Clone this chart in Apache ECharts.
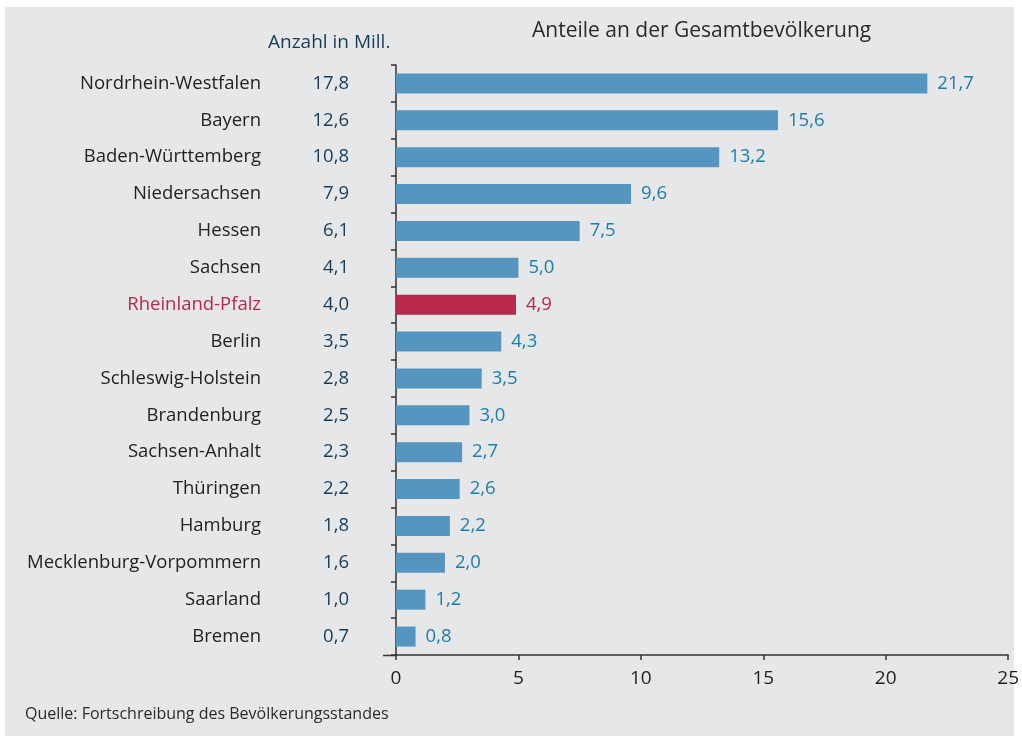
<!DOCTYPE html>
<html>
<head>
<meta charset="utf-8">
<script src="https://cdn.jsdelivr.net/npm/echarts@6/dist/echarts.min.js"></script>
<style>
  html, body { margin: 0; padding: 0; background: #fff; }
  #chart { width: 1022px; height: 736px; }
</style>
</head>
<body>
<div id="chart"></div>
<script>
// Bundesländer, sortiert nach Einwohnerzahl
var laender = ['Nordrhein-Westfalen', 'Bayern', 'Baden-Württemberg', 'Niedersachsen', 'Hessen',
    'Sachsen', 'Rheinland-Pfalz', 'Berlin', 'Schleswig-Holstein', 'Brandenburg',
    'Sachsen-Anhalt', 'Thüringen', 'Hamburg', 'Mecklenburg-Vorpommern', 'Saarland', 'Bremen'];
// Anzahl in Mill.
var anzahl = [17.8, 12.6, 10.8, 7.9, 6.1, 4.1, 4.0, 3.5, 2.8, 2.5, 2.3, 2.2, 1.8, 1.6, 1.0, 0.7];
// Anteile an der Gesamtbevölkerung in %
var anteile = [21.7, 15.6, 13.2, 9.6, 7.5, 5.0, 4.9, 4.3, 3.5, 3.0, 2.7, 2.6, 2.2, 2.0, 1.2, 0.8];
var markiert = 'Rheinland-Pfalz';

var blau = '#5595bf';
var blauText = '#1a7db0';
var rot = '#b8284a';
var font = '"Open Sans", sans-serif';

function komma(v) {
    return v.toFixed(1).replace('.', ',');
}

var myChart = echarts.init(document.getElementById('chart'));

var option = {
    backgroundColor: '#fff',
    textStyle: { fontFamily: font },
    graphic: [
        { type: 'rect', z: -10, shape: { x: 5, y: 7, width: 1009, height: 729 }, style: { fill: '#e6e7e9' } },
        { type: 'text', left: 268, top: 33, style: { text: 'Anzahl in Mill.', fill: '#163c5a', font: '19px ' + font } },
        { type: 'text', left: 532, top: 21, style: { text: 'Anteile an der Gesamtbevölkerung', fill: '#2a2a2a', font: '21px ' + font } },
        { type: 'text', left: 25, top: 706, style: { text: 'Quelle: Fortschreibung des Bevölkerungsstandes', fill: '#2a2a2a', font: '16px ' + font } },
        { type: 'line', shape: { x1: 383, y1: 655.5, x2: 396, y2: 655.5 }, style: { stroke: '#333', lineWidth: 1.5 } }
    ],
    grid: { left: 396, right: 9, top: 65, bottom: 81 },
    xAxis: {
        type: 'value',
        min: 0,
        max: 25,
        interval: 5,
        axisLine: { show: true, lineStyle: { color: '#333', width: 1.5 } },
        axisTick: { show: true, length: 5, lineStyle: { color: '#333', width: 1.5 } },
        splitLine: { show: false },
        axisLabel: { color: '#222', fontSize: 19, margin: 14 }
    },
    yAxis: {
        type: 'category',
        data: laender,
        inverse: true,
        axisLine: { show: true, lineStyle: { color: '#333', width: 1.5 } },
        axisTick: { show: true, length: 5, lineStyle: { color: '#333', width: 1.5 } },
        axisLabel: {
            margin: 47,
            formatter: function (name, i) {
                var st = name === markiert ? 'nr' : 'n';
                return '{' + st + '|' + name + '}{c|' + komma(anzahl[i]) + '}';
            },
            rich: {
                n: { color: '#222', fontSize: 18.5, fontFamily: font, width: 250, align: 'right' },
                nr: { color: rot, fontSize: 18.5, fontFamily: font, width: 250, align: 'right' },
                c: { color: '#163c5a', fontSize: 18.5, fontFamily: font, width: 88, align: 'right' }
            }
        }
    },
    series: [{
        type: 'bar',
        barWidth: 20,
        data: anteile.map(function (v, i) {
            var rp = laender[i] === markiert;
            return {
                value: v,
                itemStyle: { color: rp ? rot : blau },
                label: { color: rp ? rot : blauText }
            };
        }),
        label: {
            show: true,
            position: 'right',
            distance: 10,
            fontSize: 18.5,
            fontFamily: font,
            formatter: function (p) { return komma(p.value); }
        }
    }]
};

myChart.setOption(option);
window.addEventListener('resize', function () {
    myChart.resize();
});
</script>
</body>
</html>
